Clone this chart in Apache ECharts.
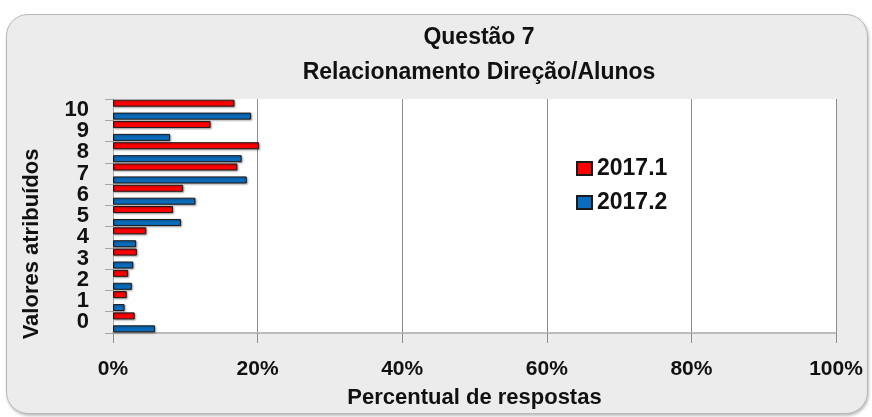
<!DOCTYPE html>
<html>
<head>
<meta charset="utf-8">
<script src="https://cdn.jsdelivr.net/npm/echarts@6/dist/echarts.min.js"></script>
<style>
    body { margin: 0; background: #fff; }
    #frame {
        position: absolute; left: 6px; top: 14px; width: 860px; height: 398px;
        background: #ececec; border: 1px solid #b8b8b8; border-radius: 22px;
        box-shadow: 1px 2px 3px rgba(0, 0, 0, 0.25);
    }
    #chart { position: absolute; left: 0; top: 0; width: 872px; height: 417px; }
</style>
</head>
<body>
<div id="frame"></div>
<div id="chart"></div>
<script>
// notas atribuídas (0 a 10)
var categories = ['0', '1', '2', '3', '4', '5', '6', '7', '8', '9', '10'];
// percentual de respostas por semestre
var semestre1 = [3.0, 1.9, 2.1, 3.3, 4.6, 8.3, 9.7, 17.2, 20.2, 13.5, 16.8];
var semestre2 = [5.8, 1.6, 2.6, 2.8, 3.2, 9.4, 11.4, 18.5, 17.8, 7.9, 19.1];
var xTicks = [0, 20, 40, 60, 80, 100];

var font = '"Liberation Sans", Arial, sans-serif';

var chart = echarts.init(document.getElementById('chart'));

var barStyle = function (color) {
    return {
        color: color,
        borderColor: '#1a1a1a',
        borderWidth: 1,
        shadowColor: 'rgba(0, 0, 0, 0.35)',
        shadowBlur: 2,
        shadowOffsetX: 1,
        shadowOffsetY: 1
    };
};

var option = {
    animation: false,
    title: {
        text: 'Questão 7',
        subtext: 'Relacionamento Direção/Alunos',
        left: 474,
        top: 20,
        textAlign: 'center',
        itemGap: 9,
        textStyle: { fontFamily: font, fontSize: 23, fontWeight: 'bold', color: '#111', lineHeight: 26 },
        subtextStyle: { fontFamily: font, fontSize: 23, fontWeight: 'bold', color: '#111', lineHeight: 26 }
    },
    legend: {
        orient: 'vertical',
        left: 571,
        top: 152,
        icon: 'rect',
        itemWidth: 15,
        itemHeight: 13,
        itemGap: 11,
        data: ['2017.1', '2017.2'],
        textStyle: { fontFamily: font, fontSize: 23, fontWeight: 'bold', color: '#111' }
    },
    grid: {
        left: 113,
        right: 36,
        top: 99,
        bottom: 84,
        show: true,
        backgroundColor: '#fff',
        borderWidth: 0
    },
    graphic: [{
        type: 'text',
        x: 32,
        y: 244,
        rotation: Math.PI / 2,
        style: {
            text: 'Valores atribuídos',
            font: 'bold 22px ' + font,
            fill: '#111',
            align: 'center',
            verticalAlign: 'middle',
            textAlign: 'center',
            textVerticalAlign: 'middle'
        }
    }],
    xAxis: {
        type: 'value',
        min: xTicks[0],
        max: xTicks[xTicks.length - 1],
        interval: 20,
        name: 'Percentual de respostas',
        nameLocation: 'middle',
        nameGap: 54,
        nameTextStyle: { fontFamily: font, fontSize: 22, fontWeight: 'bold', color: '#111' },
        axisLine: { show: true, lineStyle: { color: '#bdbdbd', width: 2 } },
        axisTick: { show: true, length: 10, lineStyle: { color: '#8c8c8c' } },
        splitLine: { show: true, lineStyle: { color: '#8c8c8c', width: 1 } },
        axisLabel: {
            margin: 26,
            formatter: '{value}%',
            fontFamily: font, fontSize: 21, fontWeight: 'bold', color: '#111'
        }
    },
    yAxis: {
        type: 'category',
        data: categories,
        axisLine: { show: true, lineStyle: { color: '#a6a6a6' } },
        axisTick: { show: true, length: 8, lineStyle: { color: '#a6a6a6' } },
        axisLabel: {
            interval: 0,
            margin: 24,
            fontFamily: font, fontSize: 22, fontWeight: 'bold', color: '#111'
        }
    },
    series: [
        {
            name: '2017.1',
            type: 'bar',
            barWidth: 7,
            barGap: '85%',
            data: semestre1,
            itemStyle: barStyle('#ff0000')
        },
        {
            name: '2017.2',
            type: 'bar',
            barWidth: 7,
            data: semestre2,
            itemStyle: barStyle('#0a6cbc')
        }
    ]
};

chart.setOption(option);
</script>
</body>
</html>
